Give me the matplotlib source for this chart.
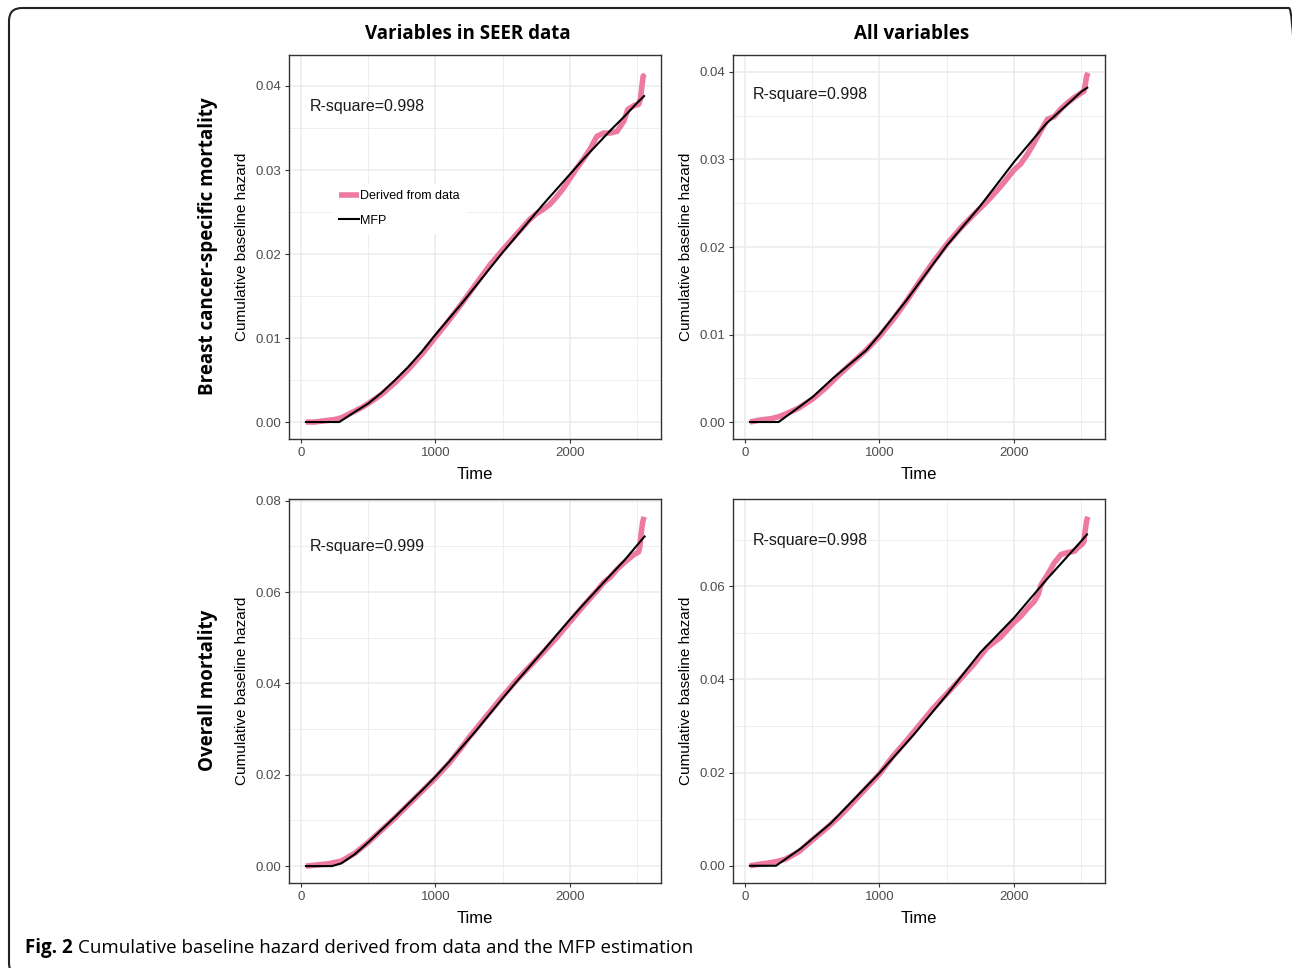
import numpy as np
import matplotlib
matplotlib.use('Agg')
import matplotlib.pyplot as plt
from matplotlib import ticker as mticker
from matplotlib.patches import FancyBboxPatch

plt.rcParams['font.family'] = ['Liberation Sans', 'DejaVu Sans']

# ---- data ----
colTitles = ['Variables in SEER data', 'All variables']
rowTitles = ['Breast cancer-specific mortality', 'Overall mortality']
rsq = [['R-square=0.998', 'R-square=0.998'],
       ['R-square=0.999', 'R-square=0.998']]

# MFP estimation (black)
t_mfp_bc_seer = [37, 285, 400, 500, 600, 700, 800, 900, 1000, 1100, 1200, 1300, 1400,
                 1500, 1600, 1700, 1800, 1900, 2000, 2100, 2200, 2300, 2400, 2500, 2551]
h_mfp_bc_seer = [0.0, 0.0, 0.0012, 0.0022, 0.0035, 0.0050, 0.0066, 0.0084, 0.0104, 0.0123,
                 0.0142, 0.0162, 0.0182, 0.0202, 0.0221, 0.0240, 0.0259, 0.0277, 0.0295,
                 0.0313, 0.0330, 0.0347, 0.0363, 0.0380, 0.0388]

t_mfp_bc_all = [37, 250, 406, 506, 654, 902, 1001, 1200, 1502, 1745, 2005, 2240, 2505, 2545]
h_mfp_bc_all = [0.0, 0.0, 0.00175, 0.0029, 0.0050, 0.0082, 0.0100, 0.0139, 0.0202, 0.0246,
                0.0298, 0.0341, 0.0378, 0.0382]

t_mfp_om_seer = [37, 230, 300, 400, 500, 600, 700, 800, 900, 1000, 1100, 1200, 1300, 1400,
                 1500, 1600, 1700, 1800, 1900, 2000, 2100, 2200, 2300, 2400, 2500, 2555]
h_mfp_om_seer = [0.0, 0.0, 0.0006, 0.0026, 0.0052, 0.0080, 0.0108, 0.0137, 0.0166, 0.0196,
                 0.0228, 0.0262, 0.0296, 0.0332, 0.0368, 0.0403, 0.0437, 0.0471, 0.0506,
                 0.0540, 0.0573, 0.0605, 0.0637, 0.0668, 0.0703, 0.0722]

t_mfp_om_all = [37, 230, 415, 637, 1000, 1254, 1501, 1748, 2000, 2242, 2489, 2543]
h_mfp_om_all = [0.0, 0.0, 0.0037, 0.0091, 0.0199, 0.0281, 0.0367, 0.0457, 0.0532, 0.0614,
                0.0693, 0.0711]

# derived from data (pink)
t_dat_bc_seer = [37, 100, 150, 200, 250, 300, 350, 400, 450, 500, 600, 700, 800, 900, 1000,
                 1100, 1200, 1300, 1400, 1500, 1600, 1700, 1750, 1800, 1850, 1900, 1950,
                 2000, 2050, 2100, 2150, 2200, 2250, 2300, 2350, 2400, 2430, 2480, 2510,
                 2525, 2535, 2545, 2551]
h_dat_bc_seer = [0.0, 0.0, 0.0001, 0.0002, 0.0003, 0.0005, 0.0009, 0.0013, 0.0017, 0.0022,
                 0.0033, 0.0047, 0.0063, 0.0081, 0.0101, 0.0121, 0.0142, 0.0164, 0.0186,
                 0.0205, 0.0223, 0.0241, 0.0248, 0.0253, 0.0259, 0.0268, 0.0278, 0.0290,
                 0.0302, 0.0313, 0.0325, 0.0340, 0.0344, 0.0344, 0.0346, 0.0358, 0.0372,
                 0.0377, 0.0378, 0.0385, 0.0400, 0.0412, 0.0410]

t_dat_bc_all = [37, 100, 200, 250, 300, 400, 500, 600, 700, 800, 900, 1000, 1100, 1200, 1300,
                1400, 1500, 1600, 1700, 1800, 1900, 2000, 2050, 2100, 2150, 2200, 2250, 2300,
                2350, 2400, 2450, 2500, 2520, 2530, 2540, 2551]
h_dat_bc_all = [0.0, 0.0002, 0.0004, 0.0006, 0.0009, 0.0016, 0.0026, 0.0039, 0.0054, 0.0068,
                0.0082, 0.0098, 0.0117, 0.0138, 0.0161, 0.0183, 0.0203, 0.0221, 0.0237,
                0.0252, 0.0269, 0.0288, 0.0295, 0.0306, 0.0319, 0.0333, 0.0346, 0.0349,
                0.0358, 0.0365, 0.0371, 0.0376, 0.0378, 0.0385, 0.0395, 0.0399]

t_dat_om_seer = [37, 100, 200, 250, 300, 400, 500, 600, 700, 800, 900, 1000, 1100, 1200, 1250,
                 1300, 1400, 1500, 1600, 1700, 1800, 1900, 2000, 2100, 2200, 2250, 2300, 2350,
                 2400, 2450, 2480, 2510, 2520, 2530, 2540, 2551]
h_dat_om_seer = [0.0, 0.0002, 0.0005, 0.0008, 0.0011, 0.0028, 0.0052, 0.0079, 0.0106, 0.0135,
                 0.0164, 0.0193, 0.0225, 0.0262, 0.0282, 0.0300, 0.0336, 0.0372, 0.0406,
                 0.0437, 0.0468, 0.0500, 0.0535, 0.0570, 0.0603, 0.0621, 0.0633, 0.0650,
                 0.0664, 0.0676, 0.0683, 0.0688, 0.0700, 0.0730, 0.0752, 0.0765]

t_dat_om_all = [37, 100, 200, 250, 300, 400, 500, 600, 700, 800, 900, 1000, 1100, 1200, 1300,
                1400, 1500, 1600, 1700, 1800, 1900, 2000, 2050, 2100, 2150, 2180, 2200, 2250,
                2300, 2350, 2400, 2450, 2480, 2500, 2520, 2530, 2540, 2549]
h_dat_om_all = [0.0, 0.0003, 0.0007, 0.0010, 0.0014, 0.0030, 0.0055, 0.0079, 0.0105, 0.0135,
                0.0166, 0.0197, 0.0235, 0.0268, 0.0303, 0.0338, 0.0369, 0.0400, 0.0432,
                0.0468, 0.0490, 0.0522, 0.0535, 0.0552, 0.0567, 0.0582, 0.0602, 0.0625,
                0.0650, 0.0668, 0.0672, 0.0675, 0.0684, 0.0688, 0.0695, 0.0720, 0.0740,
                0.0749]

mfp = [[(t_mfp_bc_seer, h_mfp_bc_seer), (t_mfp_bc_all, h_mfp_bc_all)],
       [(t_mfp_om_seer, h_mfp_om_seer), (t_mfp_om_all, h_mfp_om_all)]]
dat = [[(t_dat_bc_seer, h_dat_bc_seer), (t_dat_bc_all, h_dat_bc_all)],
       [(t_dat_om_seer, h_dat_om_seer), (t_dat_om_all, h_dat_om_all)]]

ylims = [[(-0.00202, 0.04369), (-0.00194, 0.04194)],
         [(-0.0037, 0.0804), (-0.0037, 0.0787)]]
ymajor = [0.01, 0.02]
rsqPos = [[(0.056, 0.865), (0.054, 0.898)],
          [(0.056, 0.875), (0.054, 0.891)]]

pink = '#EE799F'
grid_c = '#EBEBEB'
dark = '#333333'

W, H = 1292, 968
fig = plt.figure(figsize=(W / 100, H / 100), dpi=100)

lefts = [289, 733]
tops = [55, 499]
aw, ah = 372, 384

axs = np.empty((2, 2), dtype=object)
for i in range(2):
    for j in range(2):
        ax = fig.add_axes([lefts[j] / W, 1 - (tops[i] + ah) / H, aw / W, ah / H])
        axs[i, j] = ax

        t, h = dat[i][j]
        ax.plot(t, h, color=pink, lw=4.0, solid_capstyle='butt', zorder=3,
                label='Derived from data')
        t, h = mfp[i][j]
        ax.plot(t, h, color='black', lw=1.5, zorder=4, label='MFP')

        ax.set_xlim(-89, 2677)
        ax.set_ylim(*ylims[i][j])
        ax.xaxis.set_major_locator(mticker.MultipleLocator(1000))
        ax.xaxis.set_minor_locator(mticker.MultipleLocator(500))
        ax.yaxis.set_major_locator(mticker.MultipleLocator(ymajor[i]))
        ax.yaxis.set_minor_locator(mticker.MultipleLocator(ymajor[i] / 2))
        ax.yaxis.set_major_formatter(mticker.FormatStrFormatter('%.2f'))
        ax.grid(which='major', color=grid_c, lw=1.1, zorder=0)
        ax.grid(which='minor', color=grid_c, lw=0.6, zorder=0)
        ax.set_axisbelow(True)
        ax.tick_params(which='major', length=3, width=0.8, color=dark,
                       labelsize=9.5, labelcolor='#4D4D4D', pad=2.5)
        ax.tick_params(which='minor', length=0)
        for sp in ax.spines.values():
            sp.set_color(dark)
            sp.set_linewidth(1.0)

        ax.set_xlabel('Time', fontsize=12)
        ax.xaxis.set_label_coords(0.5, -0.072)
        ax.set_ylabel('Cumulative baseline hazard', fontsize=11)
        ax.yaxis.set_label_coords(-0.126, 0.5)
        ax.yaxis.label.set_va('center')

        ax.text(rsqPos[i][j][0], rsqPos[i][j][1], rsq[i][j], transform=ax.transAxes,
                fontsize=11.5, color='#1A1A1A', ha='left', va='center')

leg = axs[0, 0].legend(loc='center left', bbox_to_anchor=(0.1, 0.6), fontsize=9,
                       frameon=True, handlelength=1.6, handletextpad=0.1,
                       borderpad=0.5, labelspacing=1.0)
leg.get_frame().set_facecolor('white')
leg.get_frame().set_edgecolor('white')
leg.get_frame().set_alpha(1.0)

# column and row titles
for j, txt in enumerate(colTitles):
    fig.text((lefts[j] + aw / 2 - 7) / W, 1 - 34 / H, txt, fontsize=13.5,
             fontweight='bold', family='Open Sans', ha='center', va='center')
for i, txt in enumerate(rowTitles):
    fig.text(208 / W, 1 - (tops[i] + 191) / H, txt, fontsize=13.5, fontweight='bold',
             family='Open Sans', rotation=90, ha='center', va='center')

# caption
cap1 = fig.text(25 / W, 1 - 948 / H, 'Fig. 2', fontsize=13.5, fontweight='bold',
                family='Open Sans', ha='left', va='center')
fig.canvas.draw()
bb = cap1.get_window_extent()
fig.text((bb.x1 + 5) / W, 1 - 948 / H,
         'Cumulative baseline hazard derived from data and the MFP estimation',
         fontsize=13.5, family='Open Sans', ha='left', va='center')

# rounded frame around the figure
frame = FancyBboxPatch((0.09, -0.08), 12.93, 9.68,
                       boxstyle='round,pad=0,rounding_size=0.13',
                       transform=fig.dpi_scale_trans, fill=False,
                       edgecolor='#222222', lw=1.5, clip_on=False)
fig.patches.append(frame)

fig.savefig('out.png', dpi=100)
